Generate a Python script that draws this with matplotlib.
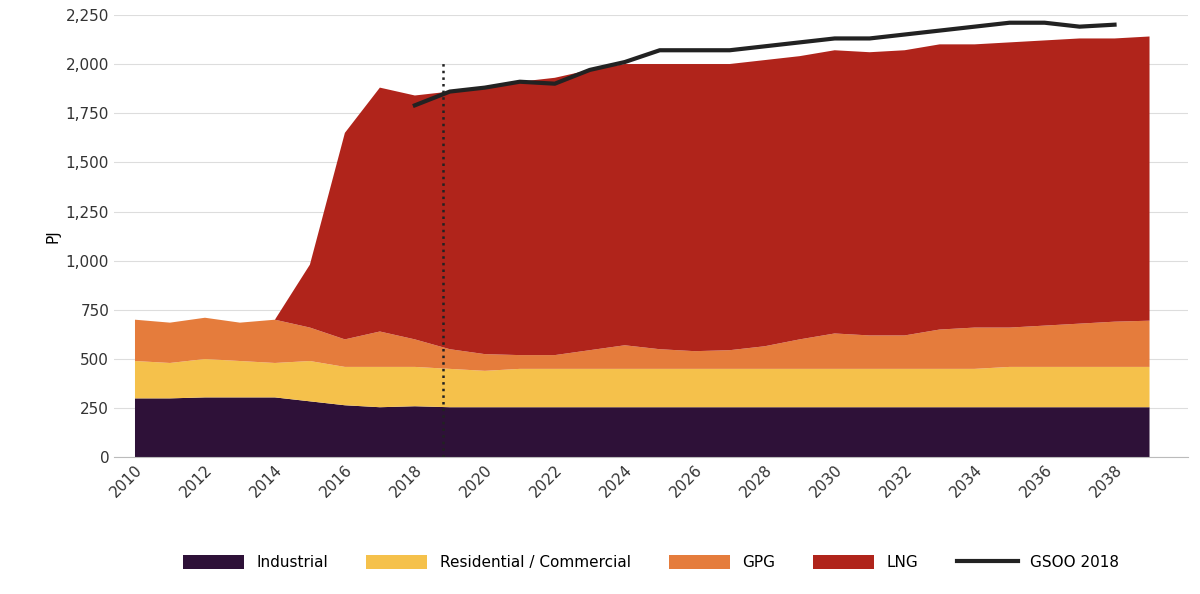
import matplotlib.pyplot as plt
import numpy as np

years = np.arange(2010, 2040)
industrial = [300, 300, 305, 305, 305, 285, 265, 255, 260, 255] + [255] * 20
resi_top = [490, 480, 500, 490, 480, 490, 460, 460, 460, 450, 440] + [450] * 14 + [460] * 5
gpg_top = [700, 685, 710, 685, 700, 660, 600, 640, 600, 550, 525, 520, 520, 545, 570,
           550, 540, 545, 565, 600, 630, 620, 620, 650, 660, 660, 670, 680, 690, 695]
total_top = [700, 685, 710, 685, 700, 980, 1650, 1880, 1840, 1860, 1880, 1910, 1930, 1970, 2000,
             2000, 2000, 2000, 2020, 2040, 2070, 2060, 2070, 2100, 2100, 2110, 2120, 2130, 2130, 2140]
gsoo_years = np.arange(2018, 2039)
gsoo = [1790, 1860, 1880, 1910, 1900, 1970, 2010, 2070, 2070, 2070, 2090, 2110, 2130, 2130,
        2150, 2170, 2190, 2210, 2210, 2190, 2200]

residential = np.array(resi_top) - np.array(industrial)
gpg = np.array(gpg_top) - np.array(resi_top)
lng = np.array(total_top) - np.array(gpg_top)

colors = ["#2e1138", "#f5c14b", "#e57c3c", "#b0241b"]
labels = ["Industrial", "Residential / Commercial", "GPG", "LNG"]

fig, ax = plt.subplots(figsize=(12, 5.94), dpi=100)
fig.subplots_adjust(left=0.095, right=0.99, top=0.975, bottom=0.23)
ax.stackplot(years, industrial, residential, gpg, lng, colors=colors, labels=labels)
ax.plot(gsoo_years, gsoo, color="#222222", linewidth=3, label="GSOO 2018")
ax.axvline(2018.8, ymin=0, ymax=2010 / 2250, color="#222222", linestyle=":", linewidth=1.8)

ax.set_xlim(2009.4, 2040.1)
ax.set_ylim(0, 2250)
ax.set_yticks(np.arange(0, 2251, 250))
ax.set_yticklabels([f"{v:,}" for v in range(0, 2251, 250)])
ax.set_xticks(np.arange(2010, 2039, 2))
plt.setp(ax.get_xticklabels(), rotation=45, ha="right", rotation_mode="anchor")
ax.tick_params(labelsize=11, colors="#333333", length=0)
ax.set_ylabel("PJ", fontsize=11)
ax.grid(axis="y", color="#dddddd", linewidth=0.8)
ax.set_axisbelow(True)
for s in ["top", "right", "left"]:
    ax.spines[s].set_visible(False)
ax.spines["bottom"].set_color("#bbbbbb")

h, l = ax.get_legend_handles_labels()
ax.legend(h, l, loc="upper center",
          bbox_to_anchor=(0.5, -0.19), ncol=5, frameon=False, fontsize=11,
          handlelength=4, handleheight=1.0, columnspacing=2.5)

fig.savefig("out.png")
